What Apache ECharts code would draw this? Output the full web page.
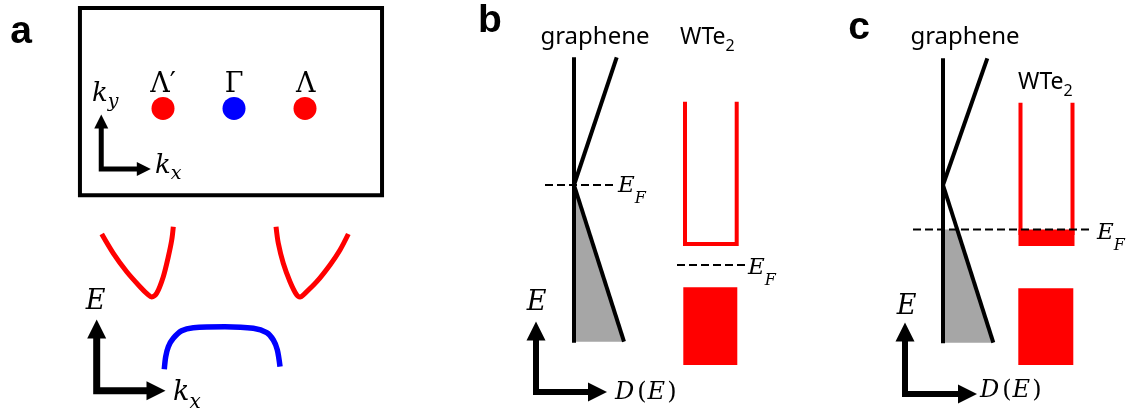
<!DOCTYPE html>
<html><head><meta charset="utf-8">
<script src="https://cdn.jsdelivr.net/npm/echarts@6/dist/echarts.min.js"></script>
<style>html,body{margin:0;padding:0;background:#fff}#c{width:1133px;height:413px}</style>
</head><body><div id="c"></div>
<script>
// ===== Panel a (top): Brillouin zone, kx/ky in units of the Γ–Λ distance =====
const bzBox = [[-2.17,1.415],[2.085,1.415],[2.085,-1.223],[-2.17,-1.223],[-2.17,1.415],[2.085,1.415]];
const valleyPoints = [[-1,0],[1,0]];          // Λ′, Λ
const gammaPoint = [[0,0]];                    // Γ
const pointLabels = ['Λ′','Γ','Λ'];
const pointLabelAt = [[-1,0.331],[0,0.331],[1.01,0.331]];
const bzAxis = [[-1.870,-0.183],[-1.870,-0.852],[-1.270,-0.852]];
const bzHeadUp = [[-1.870,-0.183]];
const bzHeadRight = [[-1.270,-0.852]];

// ===== Panel a (bottom): band dispersion E(kx) =====
const bandLeft = [[-1.863,0.887],[-1.700,0.615],[-1.511,0.356],[-1.324,0.145],[-1.207,0.028],[-1.159,0],[-1.089,0.052],[-0.996,0.286],[-0.925,0.568],[-0.877,0.803],[-0.855,0.990]];
const bandRight = [[0.592,0.990],[0.624,0.756],[0.694,0.475],[0.789,0.215],[0.883,0.028],[0.930,0],[1.0,0.052],[1.165,0.215],[1.352,0.451],[1.493,0.662],[1.610,0.887]];
const bandGamma = [[-0.982,-1.018],[-0.962,-0.841],[-0.925,-0.700],[-0.855,-0.582],[-0.737,-0.475],[-0.573,-0.432],[-0.127,-0.418],[0.272,-0.441],[0.461,-0.503],[0.554,-0.606],[0.610,-0.746],[0.648,-0.982]];
const bandAxis = [[-1.934,-0.451],[-1.934,-1.320],[-1.099,-1.320]];
const bandHeadUp = [[-1.934,-0.451]];
const bandHeadRight = [[-1.099,-1.320]];

// ===== Panel b: D(E) vs E, graphene Dirac point at E = 0 =====
const bGrapheneAxis = [[0,-15.77],[0,12.77]];
const bConeUp = [[0,0],[4.27,12.77]];
const bConeDown = [[0,0],[5.0,-15.67]];
const bFilled = [[0,0],[5.0,-15.67],[0,-15.67]];
const bWte2Cond = [[11.1,8.33],[11.1,-5.9],[16.27,-5.9],[16.27,8.33]];
const bWte2Val = [[10.93,-10.23],[16.33,-10.23],[16.33,-18.0],[10.93,-18.0]];
const bEfGraphene = [[-2.9,0],[3.9,0]];
const bEfWte2 = [[10.3,-8.0],[17.2,-8.0]];
const bAxis = [[-3.8,-14.6],[-3.8,-20.7],[2.35,-20.7]];
const bHeadUp = [[-3.8,-14.6]];
const bHeadRight = [[2.35,-20.7]];

// ===== Panel c: after charge transfer, common E_F =====
const cGrapheneAxis = [[0,-15.83],[0,12.67]];
const cConeUp = [[0,0],[4.43,12.67]];
const cConeDown = [[0,0],[5.03,-15.77]];
const cFilled = [[0,-4.45],[1.42,-4.45],[5.03,-15.77],[0,-15.77]];
const cWte2Left = [[7.75,8.23],[7.75,-5.0]];
const cWte2Right = [[12.95,8.23],[12.95,-5.0]];
const cWte2Occ = [[7.55,-4.45],[13.15,-4.45],[13.15,-6.1],[7.55,-6.1]];
const cWte2Val = [[7.53,-10.33],[13.03,-10.33],[13.03,-18.0],[7.53,-18.0]];
const cEf = [[-3.0,-4.45],[15.0,-4.45]];
const cAxis = [[-3.8,-14.7],[-3.8,-20.9],[2.45,-20.9]];
const cHeadUp = [[-3.8,-14.7]];
const cHeadRight = [[2.45,-20.9]];

// ===== Text anchors (data units of each panel) =====
const textsA = [
  {g:0, at:[-3.0,1.077], t:'a', kind:'panel'},
  {g:0, at:[-2.0,0.204], t:'{i|k}{s|y}', kind:'ky'},
  {g:0, at:[-1.113,-0.810], t:'{i|k}{s|x}', kind:'ky'},
  {g:1, at:[-1.951,-0.077], t:'{i|E}', kind:'axisE'},
  {g:1, at:[-0.859,-1.352], t:'{i|k}{s|x}', kind:'kx'}
];
const textsB = [
  {g:2, at:[-8.4,16.4], t:'b', kind:'panel'},
  {g:2, at:[2.1,14.75], t:'graphene', kind:'name'},
  {g:2, at:[10.6,14.75], t:'{w|WTe}{s|2}', kind:'wte'},
  {g:2, at:[4.4,-0.15], t:'{i|E}{s|F}', kind:'ef'},
  {g:2, at:[17.4,-8.35], t:'{i|E}{s|F}', kind:'ef'},
  {g:2, at:[-3.73,-11.75], t:'{i|E}', kind:'axisE'},
  {g:2, at:[4.1,-20.8], t:'{i|D}{p|(}{i|E}{q|)}', kind:'de'}
];
const textsC = [
  {g:3, at:[-8.4,15.7], t:'c', kind:'panel'},
  {g:3, at:[2.2,14.75], t:'graphene', kind:'name'},
  {g:3, at:[7.5,10.25], t:'{w|WTe}{s|2}', kind:'wte'},
  {g:3, at:[15.4,-4.85], t:'{i|E}{s|F}', kind:'ef'},
  {g:3, at:[-3.65,-12.15], t:'{i|E}', kind:'axisE'},
  {g:3, at:[3.7,-20.6], t:'{i|D}{p|(}{i|E}{q|)}', kind:'de'}
];

const MATH = 'DejaVu Serif';
const SANS = 'Noto Sans';
const RED = '#ff0000', BLUE = '#0000ff', GRAY = '#a6a6a6', BLACK = '#000000';

function mathRich(F, S, L) {
  return {
    i: {fontFamily: MATH, fontStyle: 'italic', fontSize: F, lineHeight: L, verticalAlign: 'middle', color: BLACK},
    u: {fontFamily: MATH, fontSize: F, lineHeight: L, verticalAlign: 'middle', color: BLACK},
    p: {fontFamily: MATH, fontSize: F, lineHeight: L, verticalAlign: 'middle', color: BLACK, padding: [0, 1, 0, 3]},
    q: {fontFamily: MATH, fontSize: F, lineHeight: L, verticalAlign: 'middle', color: BLACK, padding: [0, 0, 0, 2]},
    s: {fontFamily: MATH, fontStyle: 'italic', fontSize: S, lineHeight: S, verticalAlign: 'bottom', color: BLACK}
  };
}
const kinds = {
  panel: {align: 'center', fontFamily: 'Liberation Sans', fontWeight: 'bold', fontSize: 39},
  ky: {align: 'left', rich: mathRich(26, 19, 36)},
  kx: {align: 'left', rich: mathRich(27, 20, 40)},
  axisE: {align: 'center', rich: mathRich(27, 18, 30)},
  ef: {align: 'left', rich: mathRich(23, 16, 40)},
  de: {align: 'left', rich: mathRich(24, 16, 30)},
  name: {align: 'center', fontFamily: SANS, fontSize: 24},
  wte: {align: 'left', rich: {
    w: {fontFamily: SANS, fontSize: 23, lineHeight: 34, verticalAlign: 'middle', color: BLACK},
    s: {fontFamily: SANS, fontSize: 16, lineHeight: 16, verticalAlign: 'bottom', color: BLACK}
  }}
};

function line(g, data, color, width, opts) {
  opts = opts || {};
  return {type: 'line', xAxisIndex: g, yAxisIndex: g, data: data, symbol: 'none', showSymbol: false,
    smooth: opts.smooth || false, silent: true, clip: false, z: opts.z || 3,
    lineStyle: {color: color, width: width, type: opts.dash || 'solid', cap: 'butt', join: 'miter', opacity: 1}};
}
function poly(g, pts, color, z) {
  return {type: 'custom', xAxisIndex: g, yAxisIndex: g, data: [pts[0]], silent: true, clip: false, z: z || 2,
    renderItem: function (params, api) {
      return {type: 'polygon', shape: {points: pts.map(function (p) { return api.coord(p); })}, style: {fill: color}};
    }};
}
function dots(g, pts, color, size) {
  return {type: 'scatter', xAxisIndex: g, yAxisIndex: g, data: pts, symbol: 'circle', symbolSize: size,
    itemStyle: {color: color, opacity: 1}, silent: true, clip: false, z: 4};
}
function heads(g, pts, rot, size) {
  return {type: 'scatter', xAxisIndex: g, yAxisIndex: g, data: pts, symbol: 'triangle', symbolSize: size,
    symbolRotate: rot, itemStyle: {color: BLACK, opacity: 1}, silent: true, clip: false, z: 5};
}
function text(item) {
  const k = kinds[item.kind];
  const lab = Object.assign({show: true, position: [0, 0], verticalAlign: 'middle', color: BLACK, opacity: 1,
    formatter: function () { return item.t; }}, k);
  return {type: 'scatter', xAxisIndex: item.g, yAxisIndex: item.g, data: [item.at], symbolSize: 0,
    itemStyle: {color: 'transparent', opacity: 1}, silent: true, clip: false, z: 6, label: lab};
}

const grids = [
  {left: 0, top: 0, width: 470, height: 210},
  {left: 0, top: 210, width: 470, height: 203},
  {left: 470, top: 0, width: 330, height: 413},
  {left: 840, top: 0, width: 293, height: 413}
];
const xr = [[-3.296, 3.324], [-3.296, 3.324], [-10.4, 22.6], [-10.3, 19.0]];
const yr = [[-1.430, 1.528], [-1.634, 1.225], [-22.8, 18.5], [-22.8, 18.5]];

const series = [
  // panel a
  line(0, bzBox, BLACK, 4),
  dots(0, valleyPoints, RED, 23),
  dots(0, gammaPoint, BLUE, 23),
  line(0, bzAxis, BLACK, 5),
  heads(0, bzHeadUp, 0, [14, 14]),
  heads(0, bzHeadRight, -90, [14, 14]),
  line(1, bandLeft, RED, 5, {smooth: 0.3}),
  line(1, bandRight, RED, 5, {smooth: 0.3}),
  line(1, bandGamma, BLUE, 5.5, {smooth: 0.3}),
  line(1, bandAxis, BLACK, 7),
  heads(1, bandHeadUp, 0, [19, 19]),
  heads(1, bandHeadRight, -90, [19, 19]),
  // panel b
  poly(2, bFilled, GRAY),
  poly(2, bWte2Val, RED),
  line(2, bGrapheneAxis, BLACK, 4),
  line(2, bConeUp, BLACK, 4),
  line(2, bConeDown, BLACK, 4),
  line(2, bWte2Cond, RED, 4),
  line(2, bEfGraphene, BLACK, 2, {dash: [8, 4]}),
  line(2, bEfWte2, BLACK, 2, {dash: [8, 4]}),
  line(2, bAxis, BLACK, 6),
  heads(2, bHeadUp, 0, [19, 19]),
  heads(2, bHeadRight, -90, [19, 19]),
  // panel c
  poly(3, cFilled, GRAY),
  poly(3, cWte2Occ, RED),
  poly(3, cWte2Val, RED),
  line(3, cGrapheneAxis, BLACK, 4),
  line(3, cConeUp, BLACK, 4),
  line(3, cConeDown, BLACK, 4),
  line(3, cWte2Left, RED, 4),
  line(3, cWte2Right, RED, 4),
  line(3, cEf, BLACK, 2, {dash: [8, 4], z: 4}),
  line(3, cAxis, BLACK, 6),
  heads(3, cHeadUp, 0, [19, 19]),
  heads(3, cHeadRight, -90, [19, 19])
];
// point labels Λ′ Γ Λ
pointLabels.forEach(function (t, i) {
  series.push(text({g: 0, at: pointLabelAt[i], t: '{u|' + t + '}', kind: 'axisE'}));
});
textsA.concat(textsB, textsC).forEach(function (it) { series.push(text(it)); });

const chart = echarts.init(document.getElementById('c'), null, {renderer: 'canvas'});
chart.setOption({
  animation: false,
  backgroundColor: '#ffffff',
  grid: grids,
  xAxis: grids.map(function (g, i) { return {type: 'value', gridIndex: i, min: xr[i][0], max: xr[i][1], show: false}; }),
  yAxis: grids.map(function (g, i) { return {type: 'value', gridIndex: i, min: yr[i][0], max: yr[i][1], show: false}; }),
  series: series
});
</script></body></html>
